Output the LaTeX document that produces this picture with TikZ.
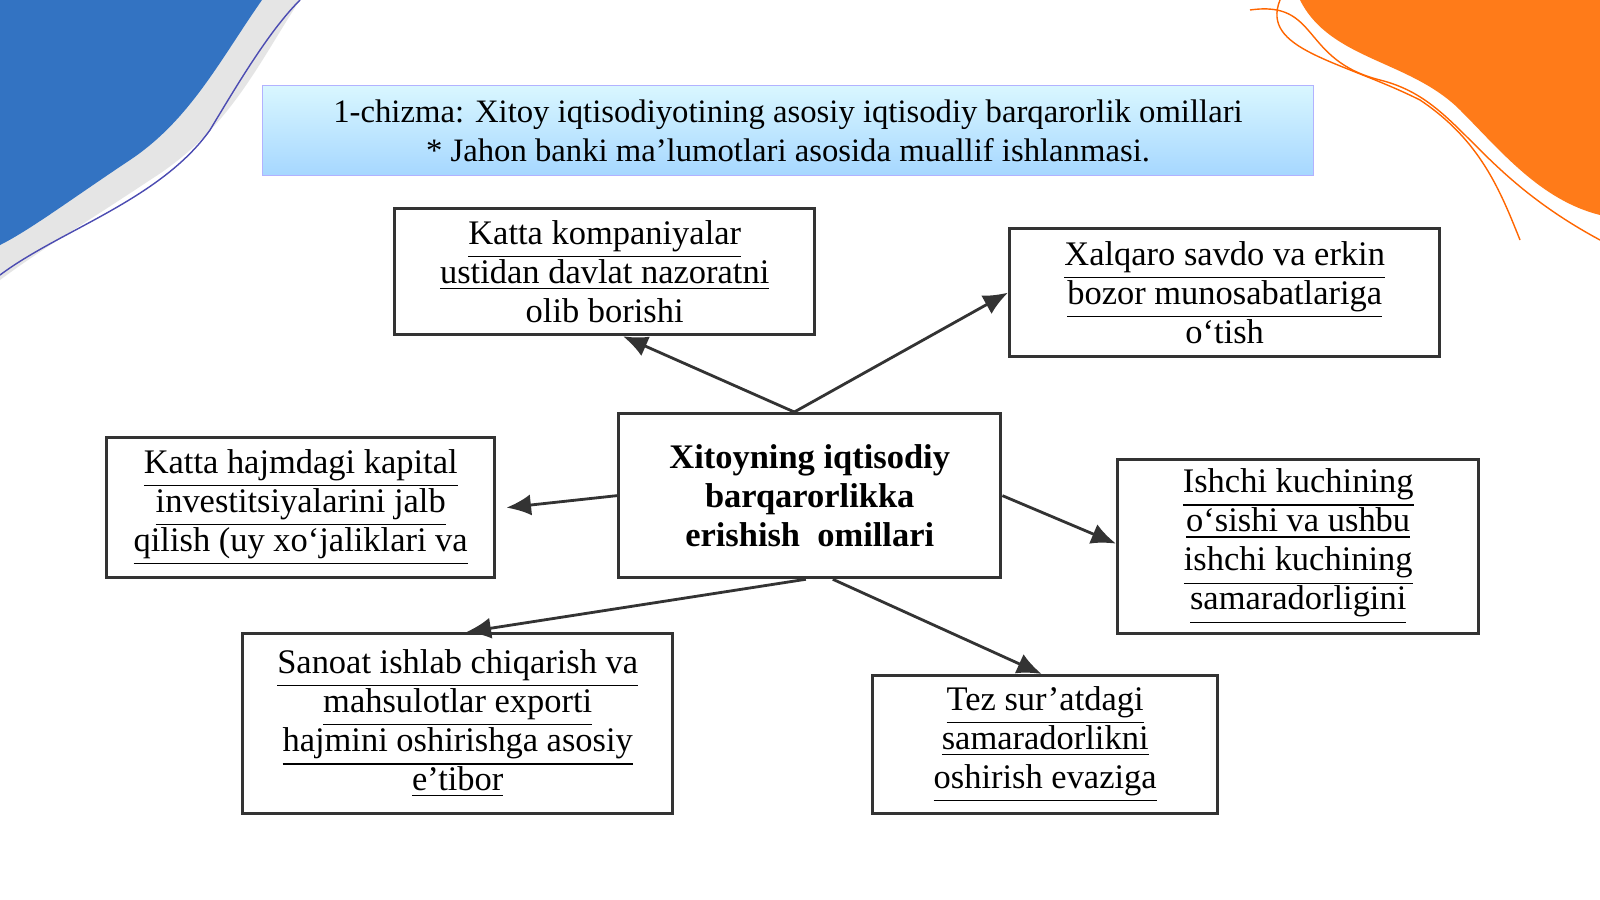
\documentclass[tikz,border=0pt]{standalone}
\usepackage{fontspec}
\setmainfont{Liberation Serif}
\usetikzlibrary{positioning,arrows.meta,calc}
\tikzset{
  factor/.style={draw=black!80, line width=0.9pt, fill=white, align=center, anchor=north west,
    font=\fontsize{9.8}{11.1}\selectfont, inner sep=0pt},
  link/.style={-{Latex[length=7pt,width=6pt]}, line width=0.8pt, black!80}
}
\newcommand{\uln}[1]{\underline{#1}}
\begin{document}
\begin{tikzpicture}[x=0.01cm,y=-0.01cm]
    \useasboundingbox (0,0) rectangle (1600,899);
    \fill[white] (0,0) rectangle (1600,899);

    % Corner decorations
    \fill[black!10] (0,0) -- (300,0) .. controls (260,60) and (230,130) .. (150,180) .. controls (90,220) and (40,250) .. (0,280) -- cycle;
    \fill[blue!55!cyan!70!black!80] (0,0) -- (262,0) .. controls (220,60) and (190,120) .. (130,160) .. controls (70,200) and (30,230) .. (0,245) -- cycle;
    \draw[blue!40!gray, thin] (0,275) .. controls (60,230) and (160,200) .. (210,130) .. controls (240,80) and (270,30) .. (300,0);
    \fill[orange!85!red!90] (1300,0) -- (1600,0) -- (1600,215) .. controls (1540,200) and (1500,150) .. (1460,110) .. controls (1410,60) and (1330,60) .. (1300,0) -- cycle;
    \draw[orange!80!red, thin] (1250,10) .. controls (1320,0) and (1300,60) .. (1380,80) .. controls (1460,100) and (1470,170) .. (1600,240);
    \draw[orange!80!red, thin] (1280,0) .. controls (1260,50) and (1340,60) .. (1420,100) .. controls (1480,140) and (1500,190) .. (1520,240);

    % Title banner
    \node[anchor=north west, minimum width=10.5cm, minimum height=0.9cm, inner sep=0pt,
      top color=blue!22!cyan!15, bottom color=blue!45!cyan!35, draw=blue!30, align=center,
      font=\fontsize{9.3}{11.2}\selectfont] (title) at (262,85)
      {1-chizma: Xitoy iqtisodiyotining asosiy iqtisodiy barqarorlik omillari\\
       * Jahon banki ma’lumotlari asosida muallif ishlanmasi.};

    % Factor boxes
    \node[factor, minimum width=4.2cm, minimum height=1.26cm] (control) at (393,207)
      {\uln{Katta kompaniyalar}\\ \uln{ustidan davlat nazoratni}\\ olib borishi};
    \node[factor, minimum width=4.3cm, minimum height=1.28cm] (trade) at (1008,227)
      {\uln{Xalqaro savdo va erkin}\\ \uln{bozor munosabatlariga}\\ o‘tish};
    \node[factor, minimum width=3.82cm, minimum height=1.64cm, font=\bfseries\fontsize{9.8}{11.1}\selectfont] (center) at (617,412)
      {Xitoyning iqtisodiy\\ barqarorlikka\\ erishish\ \ omillari};
    \node[factor, minimum width=3.88cm, minimum height=1.4cm] (capital) at (105,436)
      {\uln{Katta hajmdagi kapital}\\ \uln{investitsiyalarini jalb}\\ \uln{qilish (uy xo‘jaliklari va}};
    \node[factor, minimum width=3.61cm, minimum height=1.74cm] (labour) at (1116,458)
      {\uln{Ishchi kuchining}\\ \uln{o‘sishi va ushbu}\\ \uln{ishchi kuchining}\\ \uln{samaradorligini}};
    \node[factor, minimum width=4.3cm, minimum height=1.8cm] (export) at (241,632)
      {\uln{Sanoat ishlab chiqarish va}\\ \uln{mahsulotlar exporti}\\ \uln{hajmini oshirishga asosiy}\\ \uln{e’tibor}};
    \node[factor, minimum width=3.45cm, minimum height=1.38cm] (growth) at (871,674)
      {\uln{Tez sur’atdagi}\\ \uln{samaradorlikni}\\ \uln{oshirish evaziga}};

    % Connectors
    \coordinate (ctop) at ($(center.north west)!0.46!(center.north east)$);
    \draw[link] (ctop) -- (control.south -| 623,0);
    \draw[link] (ctop) -- (trade.west);
    \draw[link] (center.west) -- ($(capital.east)+(10,0)$);
    \draw[link] (center.east) -- ($(labour.west)+(0,-3)$);
    \draw[link] ($(center.south west)!0.49!(center.south east)$) -- ($(export.north west)!0.52!(export.north east)$);
    \draw[link] ($(center.south west)!0.56!(center.south east)$) -- ($(growth.north west)!0.49!(growth.north east)$);
\end{tikzpicture}
\end{document}
